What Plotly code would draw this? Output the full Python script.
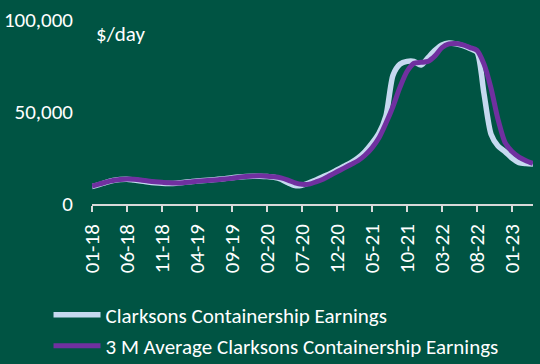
import plotly.graph_objects as go

# Monthly categories 01-18 .. 04-23
months = [f"{m:02d}-{y:02d}" for y in range(18, 24) for m in range(1, 13)][:64]

spot_earnings = [
    9500, 10500, 11800, 12800, 13300, 13500, 13000, 12500, 12000, 11600,
    11300, 11200, 11300, 11700, 12100, 12500, 12800, 13100, 13400, 13800,
    14300, 14700, 15000, 15100, 15100, 14900, 14500, 13500, 11500, 10000,
    10200, 11500, 13000, 14800, 16500, 18500, 20500, 22500, 25000, 28500,
    33000, 38500, 48000, 70000, 76000, 77500, 77500, 75500, 79500, 83500,
    86500, 87500, 87000, 86000, 84500, 82500, 60000, 38000, 31500, 28500,
    25000, 22500, 22000, 21800,
]

avg3m_earnings = [
    9800, 10800, 11900, 12800, 13300, 13600, 13400, 13000, 12500, 12100,
    11800, 11500, 11400, 11600, 12000, 12400, 12700, 12900, 13200, 13600,
    14000, 14500, 14900, 15200, 15300, 15100, 14800, 14200, 13000, 11500,
    10700, 10800, 12000, 13500, 15500, 17500, 19500, 21500, 23500, 26500,
    30500, 36000, 44000, 53000, 63500, 72000, 76500, 77000, 77500, 80500,
    85000, 87000, 87200, 86500, 85000, 83500, 76000, 63000, 46000, 33500,
    28500, 25500, 23500, 22000,
]

tick_labels = months[::5]
y_ticks = [0, 50000, 100000]
y_tick_text = ["0", "50,000", "100,000"]

BG = "#005443"
FONT = "Carlito, Calibri, Lato, sans-serif"
FS = 21

fig = go.Figure()
fig.add_trace(go.Scatter(
    x=months, y=spot_earnings, mode="lines",
    name="Clarksons Containership Earnings",
    line=dict(color="#C6D9F0", width=5.5, shape="spline", smoothing=0.7),
    legend="legend",
))
fig.add_trace(go.Scatter(
    x=months, y=avg3m_earnings, mode="lines",
    name="3 M Average Clarksons Containership Earnings",
    line=dict(color="#7030A0", width=5, shape="spline", smoothing=0.7),
    legend="legend2",
))

fig.update_layout(
    width=540, height=364,
    margin=dict(l=92, r=7, t=20, b=160, autoexpand=False),
    paper_bgcolor=BG, plot_bgcolor=BG,
    font=dict(family=FONT, size=FS, color="white"),
    showlegend=True,
    legend=dict(x=-0.0986, y=-0.604, xanchor="left", yanchor="middle",
                bgcolor="rgba(0,0,0,0)", font=dict(size=FS, color="white"),
                itemwidth=47),
    legend2=dict(x=-0.0986, y=-0.772, xanchor="left", yanchor="middle",
                 bgcolor="rgba(0,0,0,0)", font=dict(size=FS, color="white"),
                 itemwidth=47),
    annotations=[dict(text="$/day", x=0.005, y=0.925, xref="paper", yref="paper",
                      xanchor="left", yanchor="middle", showarrow=False,
                      font=dict(size=FS, color="white"))],
)
fig.update_xaxes(
    type="category", range=[0, 63], automargin=False,
    tickmode="array", tickvals=tick_labels, ticktext=tick_labels,
    tickangle=-90, ticks="outside", ticklen=6, tickwidth=1.5, tickcolor="#D9D9D9",
    showline=True, linecolor="#D9D9D9", linewidth=1.5, ticklabelstandoff=4,
    showgrid=False, zeroline=False, tickfont=dict(size=FS, color="white"),
)
fig.update_yaxes(
    range=[0, 100000], tickmode="array", tickvals=y_ticks, ticktext=y_tick_text,
    automargin=False,
    showgrid=False, zeroline=False, showline=False,
    ticks="", ticklabelstandoff=18, tickfont=dict(size=FS, color="white"),
)

fig.write_html(
    "out.html",
    config={"displayModeBar": False},
    post_script="document.body.style.margin='0';document.body.style.background='" + BG + "';",
)
